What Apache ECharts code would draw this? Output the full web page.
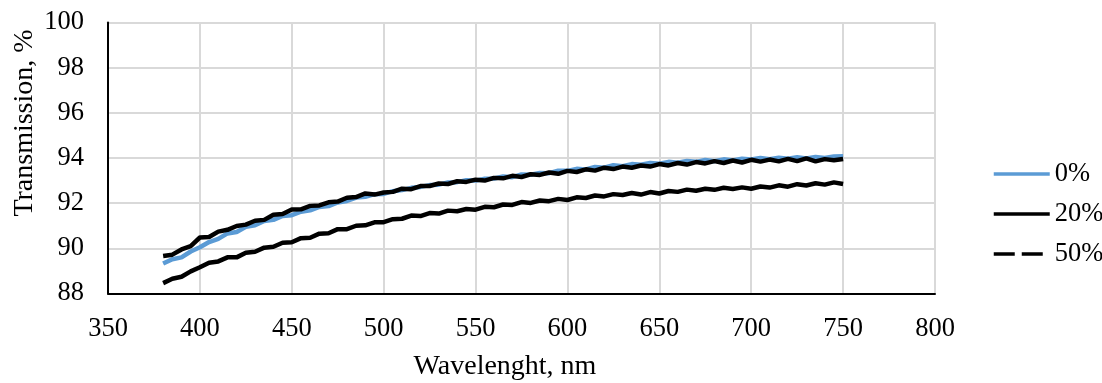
<!DOCTYPE html>
<html>
<head>
<meta charset="utf-8">
<script src="https://cdn.jsdelivr.net/npm/echarts@6/dist/echarts.min.js"></script>
<style>html,body{margin:0;padding:0;background:#fff}#c{width:1102px;height:383px}</style>
</head>
<body>
<div id="c"></div>
<script>
const wavelengths = [380,385,390,395,400,405,410,415,420,425,430,435,440,445,450,455,460,465,470,475,480,485,490,495,500,505,510,515,520,525,530,535,540,545,550,555,560,565,570,575,580,585,590,595,600,605,610,615,620,625,630,635,640,645,650,655,660,665,670,675,680,685,690,695,700,705,710,715,720,725,730,735,740,745,750];
const t0 = [89.33,89.52,89.60,89.86,90.05,90.28,90.42,90.66,90.72,90.95,91.02,91.21,91.26,91.43,91.47,91.62,91.68,91.83,91.87,92.03,92.10,92.25,92.28,92.40,92.41,92.53,92.58,92.68,92.72,92.80,92.82,92.92,92.93,93.02,93.00,93.08,93.09,93.18,93.15,93.27,93.26,93.34,93.33,93.44,93.43,93.52,93.49,93.60,93.57,93.68,93.64,93.73,93.70,93.78,93.75,93.83,93.79,93.87,93.83,93.91,93.86,93.94,93.89,93.97,93.93,94.00,93.95,94.01,93.97,94.03,93.98,94.04,94.00,94.07,94.08];
const t20 = [89.66,89.72,89.95,90.10,90.48,90.50,90.74,90.82,90.99,91.05,91.22,91.26,91.49,91.52,91.72,91.73,91.88,91.90,92.04,92.07,92.24,92.27,92.43,92.38,92.47,92.50,92.64,92.62,92.76,92.76,92.87,92.85,92.97,92.94,93.04,93.00,93.12,93.10,93.21,93.16,93.28,93.25,93.36,93.30,93.43,93.38,93.50,93.44,93.57,93.51,93.62,93.57,93.67,93.62,93.73,93.67,93.78,93.71,93.82,93.76,93.86,93.78,93.89,93.80,93.92,93.84,93.93,93.85,93.96,93.86,93.98,93.85,93.95,93.90,93.96];
const t50 = [88.46,88.65,88.74,88.98,89.16,89.36,89.42,89.60,89.60,89.80,89.85,90.03,90.07,90.25,90.27,90.45,90.47,90.65,90.67,90.85,90.85,91.00,91.02,91.15,91.16,91.29,91.31,91.45,91.43,91.56,91.54,91.67,91.64,91.74,91.71,91.84,91.82,91.94,91.92,92.05,92.01,92.12,92.09,92.19,92.14,92.26,92.23,92.34,92.30,92.40,92.36,92.45,92.38,92.49,92.43,92.54,92.50,92.60,92.55,92.64,92.59,92.68,92.63,92.70,92.64,92.74,92.69,92.79,92.73,92.84,92.78,92.88,92.82,92.92,92.85];
const seriesNames = ['0%','20%','50%'];

const font = 'Liberation Serif';
const pairs = arr => wavelengths.map((w,i)=>[w,arr[i]]);
const chart = echarts.init(document.getElementById('c'));
chart.setOption({
  animation:false,
  backgroundColor:'#fff',
  textStyle:{fontFamily:font},
  grid:{left:108,right:167,top:22.5,bottom:89.5,containLabel:false},
  xAxis:{type:'value',min:350,max:800,interval:50,
    axisLine:{show:true,lineStyle:{color:'#000',width:2}},
    axisTick:{show:false},
    axisLabel:{color:'#000',fontSize:26.5,fontFamily:font,margin:22},
    splitLine:{show:true,lineStyle:{color:'#d9d9d9',width:2}}},
  yAxis:{type:'value',min:88,max:100,interval:2,
    axisLine:{show:true,lineStyle:{color:'#000',width:2}},
    axisTick:{show:false},
    axisLabel:{color:'#000',fontSize:26.5,fontFamily:font,margin:24},
    splitLine:{show:true,lineStyle:{color:'#d9d9d9',width:2}}},
  legend:{orient:'vertical',left:987,top:155,itemWidth:56,itemHeight:14,itemGap:12,
    itemStyle:{color:'rgba(0,0,0,0)',borderWidth:0,opacity:0},
    lineStyle:{width:3.5},
    textStyle:{color:'#000',fontSize:26.5,lineHeight:28,fontFamily:font},
    data:[{name:seriesNames[0]},{name:seriesNames[1]},{name:seriesNames[2],lineStyle:{type:[21,7],width:3.5}}]},
  graphic:[
    {type:'text',x:505,y:367,style:{text:'Wavelenght, nm',font:'28px "Liberation Serif"',fill:'#000',align:'center',verticalAlign:'middle'}},
    {type:'text',x:25,y:123,rotation:Math.PI/2,style:{text:'Transmission, %',font:'28px "Liberation Serif"',fill:'#000',align:'center',verticalAlign:'middle'}}
  ],
  series:[
    {name:seriesNames[0],type:'line',symbol:'none',data:pairs(t0),lineStyle:{color:'#5b9bd5',width:4.5},itemStyle:{color:'#5b9bd5'},z:2},
    {name:seriesNames[1],type:'line',symbol:'none',data:pairs(t20),lineStyle:{color:'#000',width:4.5},itemStyle:{color:'#000'},z:3},
    {name:seriesNames[2],type:'line',symbol:'none',data:pairs(t50),lineStyle:{color:'#000',width:4.5},itemStyle:{color:'#000'},z:3}
  ]
});
</script>
</body>
</html>
